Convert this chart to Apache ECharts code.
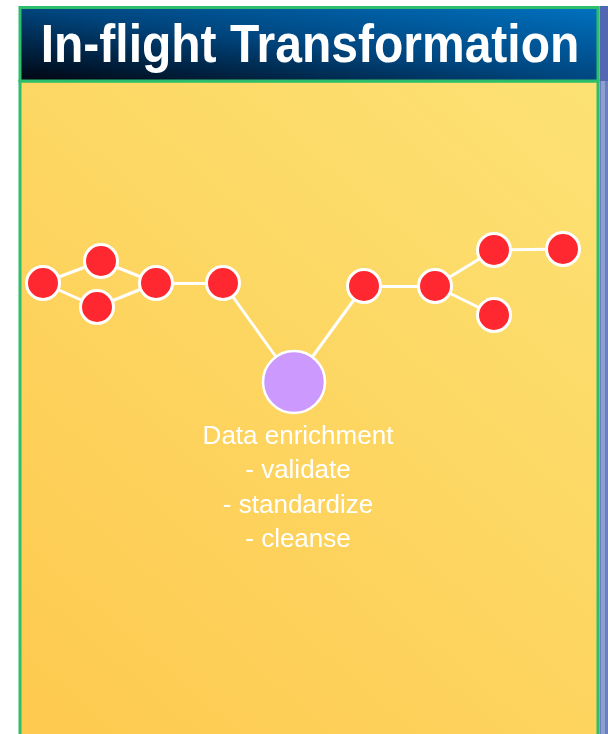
<!DOCTYPE html>
<html>
<head>
<meta charset="utf-8">
<script src="https://cdn.jsdelivr.net/npm/echarts@6/dist/echarts.min.js"></script>
<style>html,body{margin:0;padding:0;background:#fff;}#c{width:608px;height:734px;}</style>
</head>
<body>
<div id="c"></div>
<script>
// Node names and positions (in pixel-like units on hidden value axes)
var nodeNames = ['a1','a2','a3','a4','a5','hub','b1','b2','b3','b4','b5'];
var nodeX = [43, 101, 97, 156, 223, 294, 364, 435, 494, 563, 494];
var nodeY = [283, 261, 307, 283, 283, 382, 286, 286, 250, 249, 315];
var nodeKind = ['red','red','red','red','red','hub','red','red','red','red','red'];
// Links as [source, target] index pairs
var linkPairs = [[0,1],[0,2],[1,3],[2,3],[3,4],[4,5],[5,6],[6,7],[7,8],[7,10],[8,9]];
var titleText = 'In-flight Transformation';
var hubLabel = 'Data enrichment\n- validate\n- standardize\n- cleanse';

var chart = echarts.init(document.getElementById('c'), null, {renderer: 'canvas'});

var nodes = nodeNames.map(function (n, i) {
  var isHub = nodeKind[i] === 'hub';
  return {
    name: n,
    value: [nodeX[i], nodeY[i]],
    symbolSize: isHub ? 62 : 33,
    itemStyle: isHub
      ? {color: '#CC99FF', borderColor: '#ffffff', borderWidth: 2.5}
      : {color: '#FF2830', borderColor: '#ffffff', borderWidth: 3},
    label: isHub ? {
      show: true, position: 'bottom', distance: 5, offset: [4, 0],
      formatter: hubLabel, color: '#ffffff', fontSize: 26, lineHeight: 34.5,
      fontFamily: 'Arial, "Liberation Sans", sans-serif', align: 'center'
    } : {show: false}
  };
});
var links = linkPairs.map(function (p) { return {source: p[0], target: p[1]}; });

chart.setOption({
  animation: false,
  backgroundColor: '#ffffff',
  grid: {left: 0, right: 0, top: 0, bottom: 0},
  xAxis: {type: 'value', min: 0, max: 608, show: false},
  yAxis: {type: 'value', min: 0, max: 734, inverse: true, show: false},
  graphic: [
    // yellow panel
    {type: 'rect', z: -10, shape: {x: 20, y: 81, width: 578, height: 660},
     style: {fill: new echarts.graphic.LinearGradient(0, 1, 1, 0, [
       {offset: 0, color: '#FEC94E'}, {offset: 1, color: '#FCE274'}]),
       stroke: '#2DBE6C', lineWidth: 3}},
    // title bar
    {type: 'rect', z: -9, shape: {x: 20, y: 7.5, width: 578, height: 73.5},
     style: {fill: new echarts.graphic.LinearGradient(20, 81, 38.6, -64.6, [
       {offset: 0, color: '#000510'}, {offset: 0.5, color: '#00467F'}, {offset: 1, color: '#0072C0'}], true),
       stroke: '#2DBE6C', lineWidth: 3}},
    // right side strip
    {type: 'rect', z: -11, shape: {x: 599.5, y: 6, width: 8.5, height: 75},
     style: {fill: '#5267B2'}},
    {type: 'rect', z: -11, shape: {x: 599.5, y: 81, width: 8.5, height: 660},
     style: {fill: '#6A7FC2'}},
    {type: 'rect', z: -10, shape: {x: 601, y: 81, width: 4, height: 660},
     style: {fill: '#8E9ECF'}},
    // title text
    {type: 'text', z: 10, x: 310, y: 47, scaleY: 1.12,
     style: {text: titleText, x: 0, y: 0, fill: '#ffffff', align: 'center', verticalAlign: 'middle',
       font: 'bold 48px Arial, "Liberation Sans", sans-serif'}}
  ],
  series: [{
    type: 'graph',
    coordinateSystem: 'cartesian2d',
    symbol: 'circle',
    data: nodes,
    links: links,
    lineStyle: {color: '#ffffff', width: 3, opacity: 1, curveness: 0},
    emphasis: {disabled: true}
  }]
});
</script>
</body>
</html>
